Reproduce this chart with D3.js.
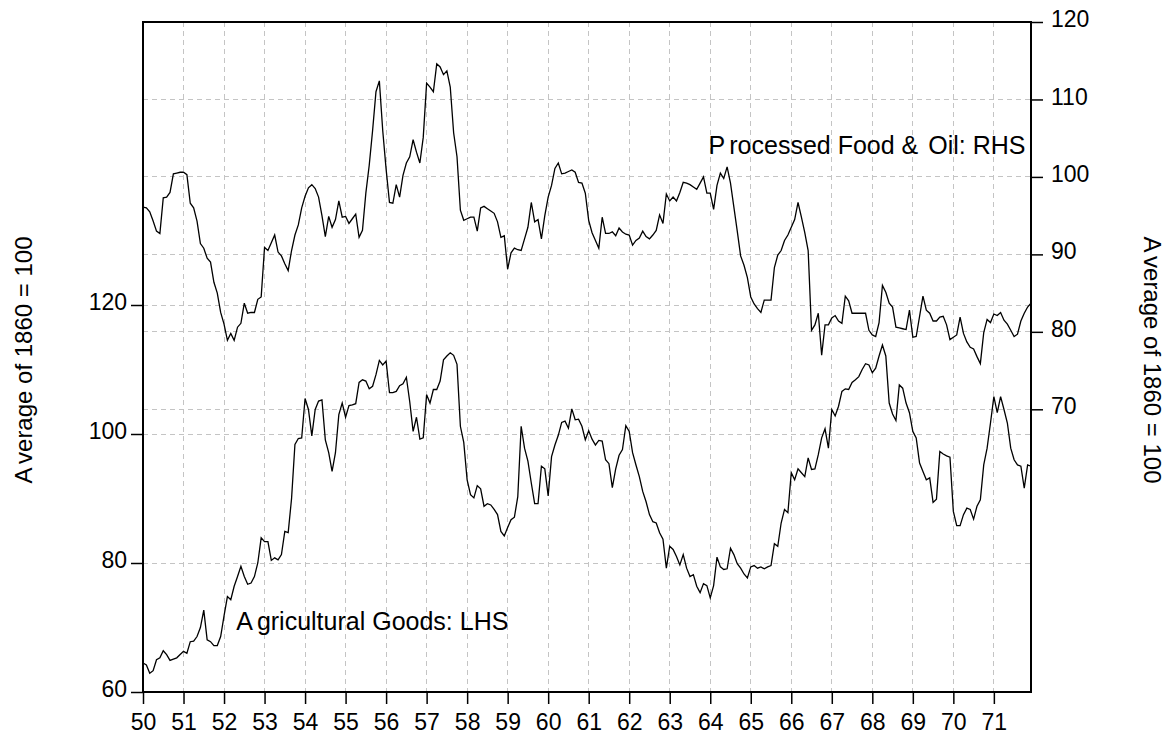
<!DOCTYPE html>
<html>
<head>
<meta charset="utf-8">
<script src="https://cdn.jsdelivr.net/npm/d3@7/dist/d3.min.js"></script>
<style>
body { margin: 0; background: #fff; }
svg text { font-family: "Liberation Sans", Arial, sans-serif; fill: #000; }
</style>
</head>
<body>
<div id="chart"></div>
<script>
// Monthly series, Jan 1850 - Dec 1871 (average of 1860 = 100)
var startYear = 1850;

// Agricultural goods, left hand scale
var agriGoods = [
    64.5, 64.2, 62.9, 63.3, 65.0, 65.3, 66.4, 65.8, 64.9, 65.1, 65.3, 65.8,
    66.3, 66.0, 67.8, 67.9, 68.6, 70.0, 72.7, 68.1, 67.8, 67.2, 67.2, 68.6,
    71.8, 74.8, 74.3, 76.4, 77.9, 79.5, 77.9, 76.7, 76.9, 77.9, 80.0, 83.9,
    83.3, 83.3, 80.4, 80.8, 80.5, 81.3, 84.9, 84.7, 90.0, 98.4, 99.3, 99.4,
    105.5, 103.8, 99.7, 103.8, 105.1, 105.3, 99.1, 97.1, 94.2, 97.1, 103.0, 104.8,
    102.6, 104.4, 104.5, 104.7, 108.0, 108.4, 108.2, 107.0, 107.4, 109.2, 111.4, 110.7,
    111.3, 106.4, 106.4, 106.6, 107.5, 107.8, 108.8, 105.0, 100.4, 102.6, 99.2, 99.4,
    106.1, 104.8, 106.9, 106.9, 108.2, 111.5, 112.1, 112.6, 112.2, 110.8, 101.2, 98.7,
    92.9, 90.6, 90.1, 92.0, 91.5, 88.8, 89.2, 89.0, 88.3, 87.5, 84.9, 84.2,
    85.5, 86.7, 87.1, 90.3, 101.2, 97.8, 95.8, 92.4, 89.2, 89.2, 95.0, 94.6,
    90.4, 96.5, 98.3, 99.8, 101.8, 102.0, 100.9, 103.9, 102.2, 102.3, 101.2, 99.1,
    100.5, 99.2, 98.3, 99.0, 98.9, 96.0, 95.4, 91.7, 94.6, 96.7, 97.6, 101.3,
    100.4, 97.1, 95.2, 93.4, 91.1, 89.5, 87.5, 86.4, 86.2, 84.7, 83.7, 79.2,
    82.6, 82.1, 81.0, 79.7, 81.3, 79.2, 77.9, 78.2, 76.4, 75.4, 76.8, 76.5,
    74.6, 76.5, 80.9, 79.4, 79.0, 79.1, 82.3, 81.3, 79.9, 79.2, 78.3, 77.7,
    79.4, 79.6, 79.2, 79.4, 79.1, 79.4, 79.6, 83.0, 82.6, 86.2, 88.3, 87.8,
    94.0, 92.9, 94.6, 94.0, 93.4, 96.3, 94.5, 94.6, 96.8, 99.4, 100.8, 97.8,
    103.8, 102.8, 104.3, 106.6, 107.0, 106.9, 108.0, 108.4, 108.9, 110.0, 110.9, 110.7,
    109.5, 110.2, 112.1, 113.8, 112.1, 104.8, 103.1, 102.1, 107.6, 107.1, 104.8, 103.3,
    100.4, 99.4, 95.5, 94.2, 92.9, 93.2, 89.4, 89.9, 97.3, 96.9, 96.6, 96.4,
    88.0, 85.8, 85.8, 87.5, 88.5, 88.3, 86.8, 88.8, 89.8, 95.2, 97.8, 101.7,
    105.8, 103.3, 105.8, 103.8, 101.7, 97.8, 96.0, 95.2, 95.0, 91.6, 95.2, 95.0
];

// Processed food & oil, right hand scale
var procFood = [
    96.1, 96.0, 95.5, 94.3, 93.0, 92.7, 97.3, 97.4, 98.0, 100.4, 100.5, 100.6,
    100.6, 100.3, 96.6, 96.0, 94.3, 91.4, 90.8, 89.5, 89.0, 86.4, 85.0, 82.5,
    81.0, 78.9, 79.8, 78.9, 80.6, 81.1, 83.7, 82.4, 82.5, 82.5, 84.2, 84.5,
    90.9, 90.5, 91.5, 92.5, 90.3, 89.8, 88.8, 87.9, 90.5, 92.5, 93.8, 96.0,
    97.5, 98.6, 99.0, 98.5, 97.4, 95.0, 92.3, 94.9, 93.5, 94.5, 96.9, 94.8,
    94.9, 94.0, 94.6, 95.2, 92.2, 93.1, 97.9, 101.5, 106.0, 111.0, 112.4, 106.0,
    101.0, 96.7, 96.6, 99.0, 97.4, 100.2, 101.8, 102.6, 104.8, 103.2, 101.8, 105.1,
    112.1, 111.6, 111.0, 114.6, 114.2, 113.2, 113.7, 111.6, 105.7, 102.6, 95.7, 94.4,
    94.6, 94.8, 94.8, 93.0, 96.0, 96.2, 95.9, 95.6, 95.3, 94.2, 92.2, 92.4,
    88.1, 90.2, 90.8, 90.6, 90.5, 92.0, 93.5, 96.7, 94.2, 94.5, 92.0, 95.0,
    97.4, 98.9, 101.1, 101.8, 100.4, 100.5, 100.7, 100.9, 100.6, 99.3, 99.2, 97.9,
    94.4, 92.8, 91.8, 90.8, 94.8, 92.7, 92.7, 92.9, 92.4, 93.4, 92.9, 92.6,
    92.5, 91.2, 91.8, 92.1, 93.0, 92.3, 92.0, 92.5, 93.1, 95.1, 94.0, 97.8,
    96.9, 97.4, 96.9, 98.0, 99.3, 99.2, 99.0, 98.7, 98.4, 99.2, 100.0, 97.9,
    97.9, 95.8, 98.9, 100.5, 99.8, 101.3, 99.2, 96.1, 93.0, 89.8, 88.6, 87.0,
    84.5, 83.6, 83.0, 82.5, 84.1, 84.1, 84.1, 88.3, 89.9, 90.5, 91.8, 92.5,
    93.5, 94.5, 96.7, 94.8, 92.8, 90.5, 80.2, 80.9, 82.4, 77.0, 80.9, 80.9,
    81.8, 82.1, 81.4, 81.1, 84.6, 84.0, 82.4, 82.4, 82.4, 82.4, 82.4, 80.2,
    79.6, 79.4, 81.2, 86.0, 85.1, 83.7, 83.2, 80.6, 80.5, 80.4, 80.3, 82.8,
    79.3, 79.4, 82.0, 84.6, 82.8, 82.4, 81.4, 81.4, 81.9, 82.0, 80.9, 79.0,
    79.3, 79.6, 81.9, 79.8, 78.7, 78.0, 77.8, 76.8, 75.9, 79.9, 81.6, 81.2,
    82.3, 82.1, 82.5, 81.5, 81.0, 80.2, 79.4, 79.7, 81.4, 82.4, 83.2, 83.7
];

// Axis ticks
var yearTicks = [1850, 1851, 1852, 1853, 1854, 1855, 1856, 1857, 1858, 1859, 1860,
                 1861, 1862, 1863, 1864, 1865, 1866, 1867, 1868, 1869, 1870, 1871];
var lhsTicks = [60, 80, 100, 120];
var rhsTicks = [70, 80, 90, 100, 110, 120];

// SVG margins
var margin = {top: 22, right: 139, bottom: 48, left: 143};
var width = 1170 - margin.left - margin.right,
    height = 740 - margin.top - margin.bottom;

var svg = d3.select("#chart").append("svg")
    .attr("width", width + margin.left + margin.right)
    .attr("height", height + margin.top + margin.bottom)
    .append("g")
    .attr("transform", "translate(" + margin.left + "," + margin.top + ")");

// Scales
var x = d3.scaleLinear()
    .domain([startYear, startYear + (agriGoods.length - 1) / 12])
    .range([0, width]);

var yLeft = d3.scaleLinear()
    .domain([60, 60 + height / 6.45])
    .range([height, 0]);

var yRight = d3.scaleLinear()
    .domain([120 - height / 7.746, 120])
    .range([height, 0]);

// Grid lines
var grid = svg.append("g").attr("class", "grid");

grid.selectAll("line.vgrid")
    .data(yearTicks.slice(1))
    .enter().append("line")
    .attr("x1", function(d) { return x(d); })
    .attr("x2", function(d) { return x(d); })
    .attr("y1", 0)
    .attr("y2", height);

grid.selectAll("line.lgrid")
    .data(lhsTicks.filter(function(d) { return d != 60; }))
    .enter().append("line")
    .attr("x1", 0)
    .attr("x2", width)
    .attr("y1", function(d) { return yLeft(d); })
    .attr("y2", function(d) { return yLeft(d); });

grid.selectAll("line.rgrid")
    .data(rhsTicks.filter(function(d) { return d != 120; }))
    .enter().append("line")
    .attr("x1", 0)
    .attr("x2", width)
    .attr("y1", function(d) { return yRight(d); })
    .attr("y2", function(d) { return yRight(d); });

grid.selectAll("line")
    .attr("stroke", "#c4c4c4")
    .attr("stroke-width", 1)
    .attr("stroke-dasharray", "5,4")
    .attr("shape-rendering", "crispEdges");

// Lines
var lineLeft = d3.line()
    .x(function(d, i) { return x(startYear + i / 12); })
    .y(function(d) { return yLeft(d); });

var lineRight = d3.line()
    .x(function(d, i) { return x(startYear + i / 12); })
    .y(function(d) { return yRight(d); });

svg.append("path")
    .datum(agriGoods)
    .attr("fill", "none")
    .attr("stroke", "#000")
    .attr("stroke-width", 1.3)
    .attr("d", lineLeft);

svg.append("path")
    .datum(procFood)
    .attr("fill", "none")
    .attr("stroke", "#000")
    .attr("stroke-width", 1.3)
    .attr("d", lineRight);

// Axes
var xAxis = svg.append("g")
    .attr("transform", "translate(0," + height + ")")
    .call(d3.axisBottom(x)
        .tickValues(yearTicks)
        .tickSize(12)
        .tickPadding(10)
        .tickFormat(function(d) { return d3.format("02")(d % 100); }));

var leftAxis = svg.append("g")
    .call(d3.axisLeft(yLeft)
        .tickValues(lhsTicks)
        .tickSize(12)
        .tickPadding(4));

var rightAxis = svg.append("g")
    .attr("transform", "translate(" + width + ",0)")
    .call(d3.axisRight(yRight)
        .tickValues(rhsTicks)
        .tickSize(12)
        .tickPadding(8));

[xAxis, leftAxis, rightAxis].forEach(function(a) {
    a.select(".domain").remove();
    a.selectAll(".tick line").attr("stroke", "#000").attr("stroke-width", 1.5);
    a.selectAll(".tick text")
        .attr("fill", "#000")
        .style("font-size", "23px");
});
leftAxis.selectAll(".tick text").attr("dy", "0.2em");
rightAxis.selectAll(".tick text").attr("dy", "0.2em");

// Plot frame
svg.append("rect")
    .attr("x", 0)
    .attr("y", 0)
    .attr("width", width)
    .attr("height", height)
    .attr("fill", "none")
    .attr("stroke", "#000")
    .attr("stroke-width", 2);

// Axis titles
svg.append("text")
    .attr("transform", "translate(" + (-111) + "," + (height / 2 + 3) + ") rotate(-90)")
    .attr("text-anchor", "middle")
    .style("font-size", "24px")
    .text("A")
    .append("tspan").attr("dx", 4).text("verage of 1860 = 100");

svg.append("text")
    .attr("transform", "translate(" + (width + 113) + "," + (height / 2 + 3) + ") rotate(90)")
    .attr("text-anchor", "middle")
    .style("font-size", "24px")
    .text("A")
    .append("tspan").attr("dx", 4).text("verage of 1860 = 100");

// Series labels
var procLabel = svg.append("text")
    .attr("x", x(1863.96))
    .attr("y", yRight(102.96))
    .style("font-size", "25px")
    .text("P");
procLabel.append("tspan").attr("dx", 4).text("rocessed Food &");
procLabel.append("tspan").attr("dx", 10).text("Oil: RHS");

var agriLabel = svg.append("text")
    .attr("x", x(1852.3))
    .attr("y", yLeft(69.66))
    .style("font-size", "25px")
    .text("A");
agriLabel.append("tspan").attr("dx", 4).text("gricultural Goods: LHS");
</script>
</body>
</html>
